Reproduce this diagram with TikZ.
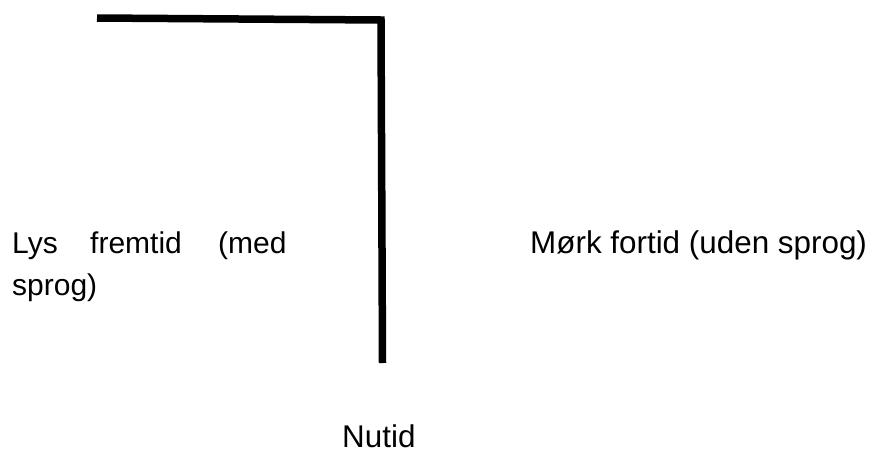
\documentclass[tikz,border=0pt]{standalone}
\usepackage{fontspec}
\setmainfont{Liberation Sans}
\begin{document}
\begin{tikzpicture}[x=1pt,y=-1pt,
  lbl/.style={inner sep=0pt,anchor=base west,font=\fontsize{30}{42}\selectfont},
  big/.style={font=\fontsize{31.4}{42}\selectfont},
  bar/.style={line width=7.5pt,line join=miter,line cap=butt}]
\useasboundingbox (0,0) rectangle (876,453);
\fill[white] (0,0) rectangle (876,453);
\coordinate (a) at (97,18);
\coordinate (b) at (381,20);
\coordinate (c) at (382.5,363);
\draw[bar] (a) -- (b) -- (c);
\node[lbl] (lys) at (12,253) {Lys};
\node[lbl] (frem) at (90,253) {fremtid};
\node[lbl] (med) at (218,253) {(med};
\node[lbl] (sprog) at (12,295) {sprog)};
\node[lbl,big] (mork) at (530,253) {Mørk fortid (uden sprog)};
\node[lbl,big] (nutid) at (342,447) {Nutid};
\end{tikzpicture}
\end{document}
